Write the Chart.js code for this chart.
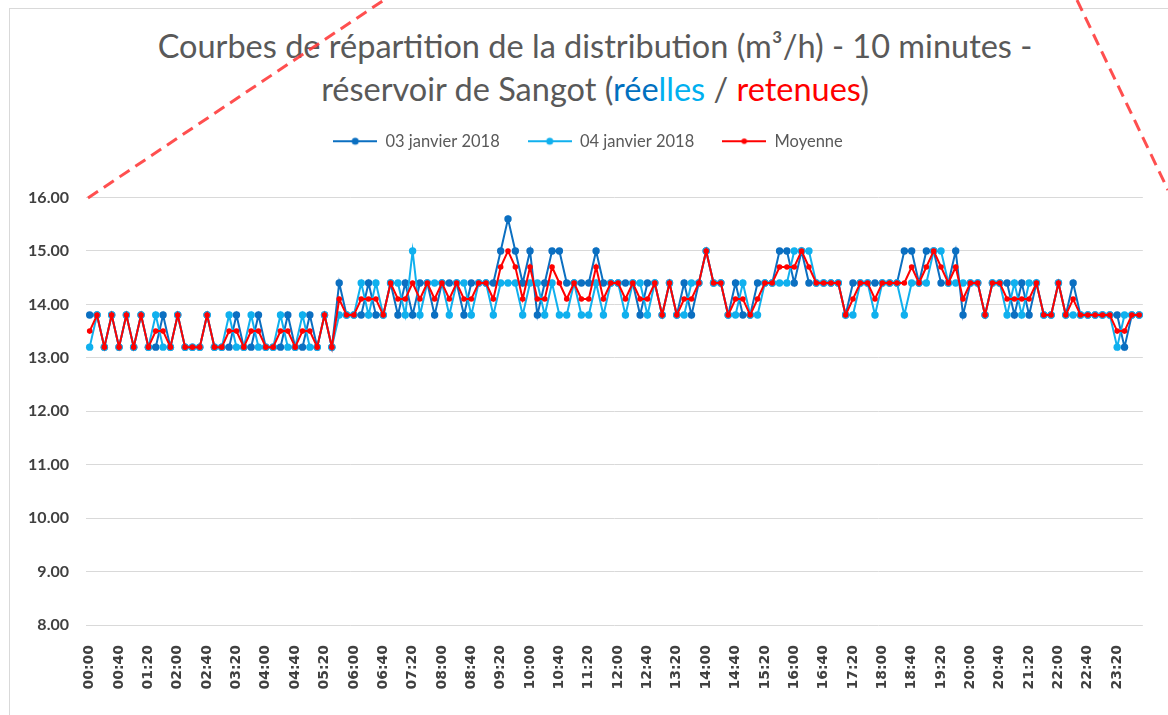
<!DOCTYPE html>
<html>
<head>
<meta charset="utf-8">
<script src="https://cdn.jsdelivr.net/npm/chart.js@4.4.0/dist/chart.umd.min.js"></script>
<style>
  html, body { margin: 0; padding: 0; background: #fff; }
  #wrap { position: relative; width: 1168px; height: 715px; overflow: hidden; }
  #cadre { position: absolute; left: 9px; top: 8px; width: 1300px; height: 900px;
           border-left: 1.5px solid #d9d9d9; border-top: 1.5px solid #d9d9d9; }
  #titre { position: absolute; left: 0; top: 24px; width: 1190px; text-align: center;
           font-family: Lato, sans-serif; font-size: 32.5px; line-height: 43px; color: #595959; }
  canvas { position: absolute; left: 0; top: 0; }
</style>
</head>
<body>
<div id="wrap">
  <div id="cadre"></div>
  <div id="titre">Courbes de répartition de la distribution (m³/h) - 10 minutes -<br>réservoir de Sangot (<span style="color:#0070C0">rée</span><span style="color:#00B0F0">lles</span> / <span style="color:#FF0000">retenues</span>)</div>
  <canvas id="courbe" width="1168" height="715"></canvas>
</div>
<script>
// pas de 10 minutes sur la journée
const heures = [];
for (let h = 0; h < 24; h++) {
    for (let m = 0; m < 60; m += 10) {
        heures.push(String(h).padStart(2, '0') + ':' + String(m).padStart(2, '0'));
    }
}

const jan03 = [
    13.8, 13.8, 13.2, 13.8, 13.2, 13.8, 13.2, 13.8, 13.2, 13.2, 13.8, 13.2,
    13.8, 13.2, 13.2, 13.2, 13.8, 13.2, 13.2, 13.2, 13.8, 13.2, 13.2, 13.8,
    13.2, 13.2, 13.2, 13.8, 13.2, 13.2, 13.8, 13.2, 13.8, 13.2, 14.4, 13.8,
    13.8, 13.8, 14.4, 13.8, 13.8, 14.4, 13.8, 14.4, 13.8, 14.4, 14.4, 13.8,
    14.4, 14.4, 14.4, 13.8, 14.4, 14.4, 14.4, 14.4, 15.0, 15.6, 15.0, 14.4,
    15.0, 13.8, 14.4, 15.0, 15.0, 14.4, 14.4, 14.4, 14.4, 15.0, 14.4, 14.4,
    14.4, 14.4, 14.4, 13.8, 14.4, 14.4, 13.8, 14.4, 13.8, 14.4, 13.8, 14.4,
    15.0, 14.4, 14.4, 13.8, 14.4, 13.8, 13.8, 14.4, 14.4, 14.4, 15.0, 15.0,
    14.4, 15.0, 14.4, 14.4, 14.4, 14.4, 14.4, 13.8, 14.4, 14.4, 14.4, 14.4,
    14.4, 14.4, 14.4, 15.0, 15.0, 14.4, 15.0, 15.0, 14.4, 14.4, 15.0, 13.8,
    14.4, 14.4, 13.8, 14.4, 14.4, 14.4, 13.8, 14.4, 13.8, 14.4, 13.8, 13.8,
    14.4, 13.8, 14.4, 13.8, 13.8, 13.8, 13.8, 13.8, 13.8, 13.2, 13.8, 13.8
];

const jan04 = [
    13.2, 13.8, 13.2, 13.8, 13.2, 13.8, 13.2, 13.8, 13.2, 13.8, 13.2, 13.2,
    13.8, 13.2, 13.2, 13.2, 13.8, 13.2, 13.2, 13.8, 13.2, 13.2, 13.8, 13.2,
    13.2, 13.2, 13.8, 13.2, 13.2, 13.8, 13.2, 13.2, 13.8, 13.2, 13.8, 13.8,
    13.8, 14.4, 13.8, 14.4, 13.8, 14.4, 14.4, 13.8, 15.0, 13.8, 14.4, 14.4,
    14.4, 13.8, 14.4, 14.4, 13.8, 14.4, 14.4, 13.8, 14.4, 14.4, 14.4, 13.8,
    14.4, 14.4, 13.8, 14.4, 13.8, 13.8, 14.4, 13.8, 13.8, 14.4, 13.8, 14.4,
    14.4, 13.8, 14.4, 14.4, 13.8, 14.4, 13.8, 14.4, 13.8, 13.8, 14.4, 14.4,
    15.0, 14.4, 14.4, 13.8, 13.8, 14.4, 13.8, 13.8, 14.4, 14.4, 14.4, 14.4,
    15.0, 15.0, 15.0, 14.4, 14.4, 14.4, 14.4, 13.8, 13.8, 14.4, 14.4, 13.8,
    14.4, 14.4, 14.4, 13.8, 14.4, 14.4, 14.4, 15.0, 15.0, 14.4, 14.4, 14.4,
    14.4, 14.4, 13.8, 14.4, 14.4, 13.8, 14.4, 13.8, 14.4, 14.4, 13.8, 13.8,
    14.4, 13.8, 13.8, 13.8, 13.8, 13.8, 13.8, 13.8, 13.2, 13.8, 13.8, 13.8
];

const moyenne = [
    13.5, 13.8, 13.2, 13.8, 13.2, 13.8, 13.2, 13.8, 13.2, 13.5, 13.5, 13.2,
    13.8, 13.2, 13.2, 13.2, 13.8, 13.2, 13.2, 13.5, 13.5, 13.2, 13.5, 13.5,
    13.2, 13.2, 13.5, 13.5, 13.2, 13.5, 13.5, 13.2, 13.8, 13.2, 14.1, 13.8,
    13.8, 14.1, 14.1, 14.1, 13.8, 14.4, 14.1, 14.1, 14.4, 14.1, 14.4, 14.1,
    14.4, 14.1, 14.4, 14.1, 14.1, 14.4, 14.4, 14.1, 14.7, 15.0, 14.7, 14.1,
    14.7, 14.1, 14.1, 14.7, 14.4, 14.1, 14.4, 14.1, 14.1, 14.7, 14.1, 14.4,
    14.4, 14.1, 14.4, 14.1, 14.1, 14.4, 13.8, 14.4, 13.8, 14.1, 14.1, 14.4,
    15.0, 14.4, 14.4, 13.8, 14.1, 14.1, 13.8, 14.1, 14.4, 14.4, 14.7, 14.7,
    14.7, 15.0, 14.7, 14.4, 14.4, 14.4, 14.4, 13.8, 14.1, 14.4, 14.4, 14.1,
    14.4, 14.4, 14.4, 14.4, 14.7, 14.4, 14.7, 15.0, 14.7, 14.4, 14.7, 14.1,
    14.4, 14.4, 13.8, 14.4, 14.4, 14.1, 14.1, 14.1, 14.1, 14.4, 13.8, 13.8,
    14.4, 13.8, 14.1, 13.8, 13.8, 13.8, 13.8, 13.8, 13.5, 13.5, 13.8, 13.8
];

const graduationsY = [8, 9, 10, 11, 12, 13, 14, 15, 16];

// petit trait + rond pour la légende
function marqueur(couleur, rayon) {
    const c = document.createElement('canvas');
    c.width = 44;
    c.height = 12;
    const g = c.getContext('2d');
    g.strokeStyle = couleur;
    g.lineWidth = 2;
    g.beginPath();
    g.moveTo(0, 6);
    g.lineTo(44, 6);
    g.stroke();
    g.fillStyle = couleur;
    g.beginPath();
    g.arc(22, 6, rayon, 0, Math.PI * 2);
    g.fill();
    return c;
}

// laisse un blanc entre la légende et la zone de tracé
const espaceLegende = {
    id: 'espaceLegende',
    afterInit(chart) {
        const fitOrig = chart.legend.fit;
        chart.legend.fit = function () {
            fitOrig.call(this);
            this.height += 38;
        };
    }
};

// les deux traits pointillés rouges
const diagonales = {
    id: 'diagonales',
    afterDraw(chart) {
        const c = chart.ctx;
        const w = chart.width;
        c.save();
        c.strokeStyle = 'rgba(255, 60, 60, 0.9)';
        c.lineWidth = 3;
        c.setLineDash([12, 7]);
        c.beginPath();
        c.moveTo(88, 198);
        c.lineTo(384, 0);
        c.moveTo(w - 91, 0);
        c.lineTo(w, 190);
        c.stroke();
        c.restore();
    }
};

const ctx = document.getElementById('courbe').getContext('2d');
const courbe = new Chart(ctx, {
    type: 'line',
    data: {
        labels: heures,
        datasets: [{
            label: '03 janvier 2018',
            data: jan03,
            borderColor: '#0B6FC1',
            backgroundColor: '#0B6FC1',
            borderWidth: 2,
            pointRadius: 3.7,
            pointBorderWidth: 0,
            order: 3
        }, {
            label: '04 janvier 2018',
            data: jan04,
            borderColor: '#10B0EE',
            backgroundColor: '#10B0EE',
            borderWidth: 2,
            pointRadius: 3.7,
            pointBorderWidth: 0,
            order: 2
        }, {
            label: 'Moyenne',
            data: moyenne,
            borderColor: '#FF0000',
            backgroundColor: '#FF0000',
            borderWidth: 2,
            pointRadius: 2.8,
            pointBorderWidth: 0,
            order: 1
        }]
    },
    options: {
        responsive: false,
        animation: false,
        layout: {
            padding: { left: 10, right: 2, top: 105, bottom: 0 }
        },
        plugins: {
            legend: {
                position: 'top',
                labels: {
                    usePointStyle: true,
                    pointStyleWidth: 44,
                    padding: 28,
                    color: '#595959',
                    font: { family: 'Lato', size: 16.5 },
                    generateLabels: function (chart) {
                        return chart.data.datasets.map(function (ds, i) {
                            return {
                                text: ds.label,
                                pointStyle: marqueur(ds.borderColor, i === 2 ? 2.8 : 3.5),
                                fillStyle: ds.borderColor,
                                strokeStyle: ds.borderColor,
                                lineWidth: 0,
                                fontColor: '#595959',
                                hidden: false,
                                datasetIndex: i
                            };
                        });
                    }
                }
            },
            tooltip: { enabled: false }
        },
        scales: {
            x: {
                offset: true,
                grid: { display: false },
                border: { display: false },
                ticks: {
                    autoSkip: false,
                    minRotation: 90,
                    maxRotation: 90,
                    padding: 12,
                    color: '#404040',
                    font: { family: 'DejaVu Sans', weight: 'bold', size: 14 },
                    callback: function (v, i) {
                        return i % 4 === 0 ? this.getLabelForValue(v) : '';
                    }
                },
                afterFit: function (s) { s.height = 90; }
            },
            y: {
                min: graduationsY[0],
                max: graduationsY[graduationsY.length - 1],
                grid: { color: '#d9d9d9', lineWidth: 1, drawTicks: false },
                border: { display: false },
                ticks: {
                    stepSize: 1,
                    padding: 17,
                    color: '#404040',
                    font: { family: 'Lato', weight: 'bold', size: 16 },
                    callback: function (v) { return v.toFixed(2); }
                },
                afterFit: function (s) { s.width = 76; }
            }
        }
    },
    plugins: [espaceLegende, diagonales]
});
</script>
</body>
</html>
